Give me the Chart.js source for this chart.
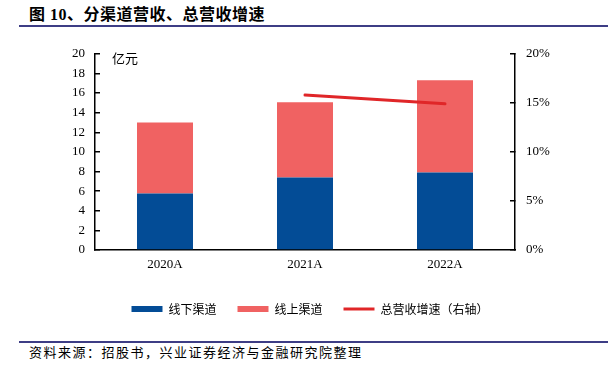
<!DOCTYPE html>
<html>
<head>
<meta charset="utf-8">
<script src="https://cdn.jsdelivr.net/npm/chart.js@4"></script>
<style>
  body { margin: 0; background: #fff; width: 608px; height: 370px; position: relative; overflow: hidden; }
  .title { position: absolute; left: 29px; top: 5px; font: bold 16px "Liberation Serif", "Noto Sans CJK SC"; letter-spacing: 0.5px; color: #000; line-height: 20px; }
  .rule { position: absolute; left: 19px; width: 589px; height: 2px; background: #3d3d85; }
  .source { position: absolute; left: 29px; top: 344px; font: 13px "Noto Sans CJK SC"; letter-spacing: 1.5px; color: #000; line-height: 16px; }
  #wrap { position: absolute; left: 0; top: 30px; width: 608px; height: 300px; }
</style>
</head>
<body>
<div class="title">图 10、分渠道营收、总营收增速</div>
<div class="rule" style="top:25px"></div>
<div id="wrap"><canvas id="chart"></canvas></div>
<div class="rule" style="top:341px"></div>
<div class="source">资料来源：招股书，兴业证券经济与金融研究院整理</div>
<script>
// data
const years = ["2020A", "2021A", "2022A"];
const offline = [5.75, 7.4, 7.9];   // 线下渠道, 亿元
const online = [7.25, 7.65, 9.4];   // 线上渠道, 亿元
const growth = [null, 15.8, 14.9];  // 总营收增速, %
const leftTicks = [0, 2, 4, 6, 8, 10, 12, 14, 16, 18, 20];
const rightTicks = [0, 5, 10, 15, 20];

const BLUE = "#034c96";
const PINK = "#f06262";
const RED = "#e02628";
const serif = "Liberation Serif";
const cjk = "Noto Sans CJK SC";

// 亿元 unit label in the top left corner of the plot
const unitLabel = {
  id: "unitLabel",
  afterDraw(chart) {
    const { ctx, chartArea } = chart;
    ctx.save();
    ctx.font = "13px " + cjk;
    ctx.fillStyle = "#000";
    ctx.textBaseline = "middle";
    ctx.fillText("亿元", chartArea.left + 17, chartArea.top + 4);
    ctx.restore();
  }
};

new Chart(document.getElementById("chart"), {
  type: "bar",
  data: {
    labels: years,
    datasets: [
      { label: "线下渠道", data: offline, backgroundColor: BLUE, yAxisID: "y", stack: "s", order: 1,
        barPercentage: 0.4, categoryPercentage: 1 },
      { label: "线上渠道", data: online, backgroundColor: PINK, yAxisID: "y", stack: "s", order: 1,
        barPercentage: 0.4, categoryPercentage: 1 },
      { type: "line", label: "总营收增速（右轴）", data: growth, yAxisID: "y1", order: 0,
        borderColor: RED, borderWidth: 3, borderCapStyle: "round", pointRadius: 0, fill: false, tension: 0 }
    ]
  },
  options: {
    responsive: true,
    maintainAspectRatio: false,
    animation: false,
    layout: { padding: { top: 17, left: 12, right: 0, bottom: 5 } },
    plugins: {
      tooltip: { enabled: false },
      legend: {
        position: "bottom",
        labels: {
          usePointStyle: true,
          pointStyleWidth: 31,
          boxHeight: 6,
          padding: 21,
          color: "#000",
          font: { family: cjk, size: 12 },
          generateLabels(chart) {
            return chart.data.datasets.map((ds, i) => ({
              text: ds.label,
              datasetIndex: i,
              hidden: false,
              fontColor: "#000",
              fillStyle: ds.type === "line" ? RED : ds.backgroundColor,
              strokeStyle: ds.type === "line" ? RED : ds.backgroundColor,
              lineWidth: ds.type === "line" ? 3 : 0,
              pointStyle: ds.type === "line" ? "line" : "rect"
            }));
          }
        }
      }
    },
    scales: {
      x: {
        stacked: true,
        grid: { display: false, drawTicks: false },
        border: { display: true, color: "#000", width: 1.5 },
        ticks: { color: "#000", padding: 7, font: { family: serif, size: 13 } },
        afterFit(scale) { scale.height = 32; }
      },
      y: {
        stacked: true,
        position: "left",
        min: 0, max: 20,
        afterBuildTicks(scale) { scale.ticks = leftTicks.map(v => ({ value: v })); },
        grid: { drawOnChartArea: false, drawTicks: true, tickLength: -5, color: "#000", lineWidth: 1.5 },
        border: { display: true, color: "#000", width: 1.5 },
        ticks: { color: "#000", padding: 15, font: { family: serif, size: 13 } },
        afterFit(scale) { scale.width = 83; }
      },
      y1: {
        position: "right",
        min: 0, max: 20,
        afterBuildTicks(scale) { scale.ticks = rightTicks.map(v => ({ value: v })); },
        grid: { drawOnChartArea: false, drawTicks: true, tickLength: -5, color: "#000", lineWidth: 1.5 },
        border: { display: true, color: "#000", width: 1.5 },
        ticks: { color: "#000", padding: 16, font: { family: serif, size: 13 }, callback: v => v + "%" },
        afterFit(scale) { scale.width = 93; }
      }
    }
  },
  plugins: [unitLabel]
});
</script>
</body>
</html>
